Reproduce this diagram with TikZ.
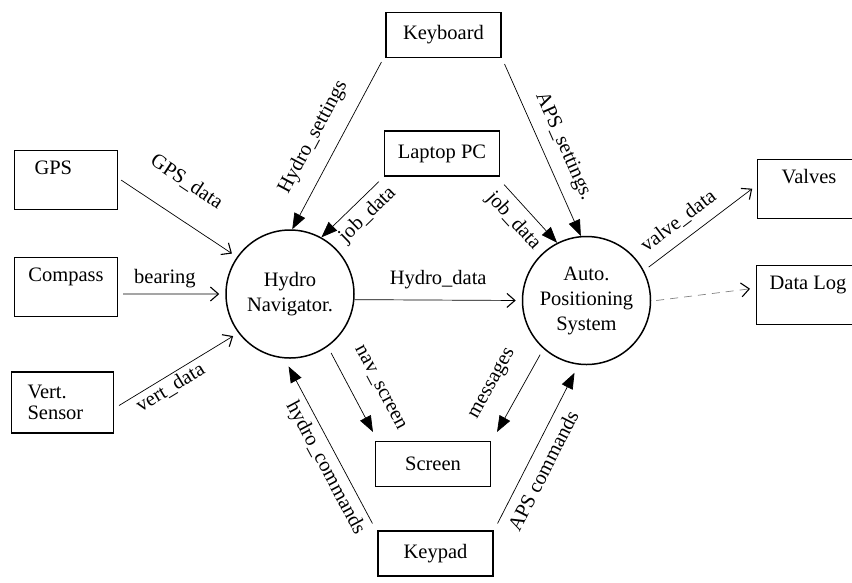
\documentclass[tikz,border=0pt]{standalone}
\usepackage{fontspec}
\setmainfont{Liberation Serif}
\usetikzlibrary{arrows.meta}

\begin{document}
\begin{tikzpicture}[x=1pt, y=-1pt,
		font=\fontsize{20.5}{25}\selectfont,
		box/.style={draw, line width=1.1pt, minimum width=115pt, minimum height=45pt, inner sep=0pt},
		srcbox/.style={draw, line width=1.1pt, anchor=north west, minimum width=103pt, text height=19pt, text depth=30pt, inner ysep=5pt, inner xsep=0pt},
		proc/.style={draw, circle, line width=1.5pt, minimum size=128pt, inner sep=0pt, align=center},
		flow/.style={line width=0.7pt, -{Triangle[length=16pt,width=12pt]}},
		data/.style={line width=0.7pt, -{Straight Barb[length=8pt,width=14pt,line width=1.1pt]}, shorten >=6pt},
		lbl/.style={sloped, inner sep=6pt}]
	\useasboundingbox (0,0) rectangle (852,582);
	\clip (0,0) rectangle (852,582);

	\node[srcbox, text width=63pt, inner xsep=20pt] (gps) at (14,150) {GPS};
	\node[srcbox, align=center] (compass) at (14,257) {Compass};
	\node[draw, line width=1.1pt, minimum height=61pt, text width=70pt, inner xsep=16pt, align=left] (vert) at (62.5,402.5) {Vert.\\[-4pt]Sensor};
	\node[proc] (hydro) at (290,294) {Hydro\\Navigator.};
	\node[proc] (aps) at (586.5,300.5) {Auto.\\Positioning\\System};
	\node[box] (keyboard) at (443.5,35) {Keyboard};
	\node[box] (laptop) at (442,153.5) {Laptop PC};
	\node[box] (screen) at (433,464) {Screen};
	\node[box] (keypad) at (435.5,553.5) {Keypad};
	\node[srcbox] (valves) at (757,159) {Valves};
	\node[srcbox] (datalog) at (756,265) {Data Log};

	\draw[data] ([xshift=3pt]gps.east) -- (hydro.145) node[lbl, pos=0.4, above, inner sep=26pt] {GPS\_data};
	\draw[data] ([shift={(5,7)}]compass.east) -- (hydro.west) node[lbl, pos=0.41, above] {bearing};
	\draw[data] ([shift={(5,3)}]vert.east) -- (hydro.217) node[lbl, pos=0.38, below, inner sep=3pt] {vert\_data};
	\draw[flow] ([shift={(-4,4)}]keyboard.south west) -- (hydro.88) node[lbl, pos=0.52, above, inner sep=15pt] {Hydro\_settings};
	\draw[flow] ([shift={(-5,5)}]laptop.south west) -- (hydro.61) node[lbl, pos=0.39, below, inner sep=6.5pt] {job\_data};
	\draw[flow] ([shift={(4,8)}]laptop.south east) -- (aps.117) node[lbl, pos=0.42, below, inner sep=8pt] {job\_data};
	\draw[flow] ([shift={(3,6)}]keyboard.south east) -- (aps.95) node[lbl, pos=0.53, above, inner sep=11pt] {APS\_settings.};
	\draw[data] (hydro.355) -- (aps.west) node[lbl, midway, above, inner sep=11pt] {Hydro\_data};
	\draw[flow] ([shift={(4,6)}]hydro.305) -- ([shift={(-2,-9)}]screen.north west) node[lbl, pos=0.6, above, inner sep=20pt] {nav\_screen};
	\draw[flow] ([shift={(-3,6)}]aps.228) -- ([shift={(6,-9)}]screen.north east) node[lbl, pos=0.55, above, inner sep=19pt] {messages};
	\draw[flow, shorten >=9pt] ([shift={(-5,-7)}]keypad.north west) -- (hydro.265) node[lbl, pos=0.38, below] {hydro\_commands};
	\draw[flow, shorten >=9pt] ([shift={(4,-7)}]keypad.north east) -- (aps.263) node[lbl, pos=0.38, below, inner sep=9pt] {APS commands};
	\draw[data] ([shift={(5,-3)}]aps.28) -- ([yshift=4pt]valves.west) node[lbl, pos=0.38, above, inner sep=10pt] {valve\_data};
	\draw[data, gray, dashed, dash pattern=on 8pt off 6pt, -{Straight Barb[length=8pt,width=14pt,line width=1.1pt,black]}] ([xshift=5pt]aps.east) -- ([yshift=7pt]datalog.west);
\end{tikzpicture}
\end{document}
